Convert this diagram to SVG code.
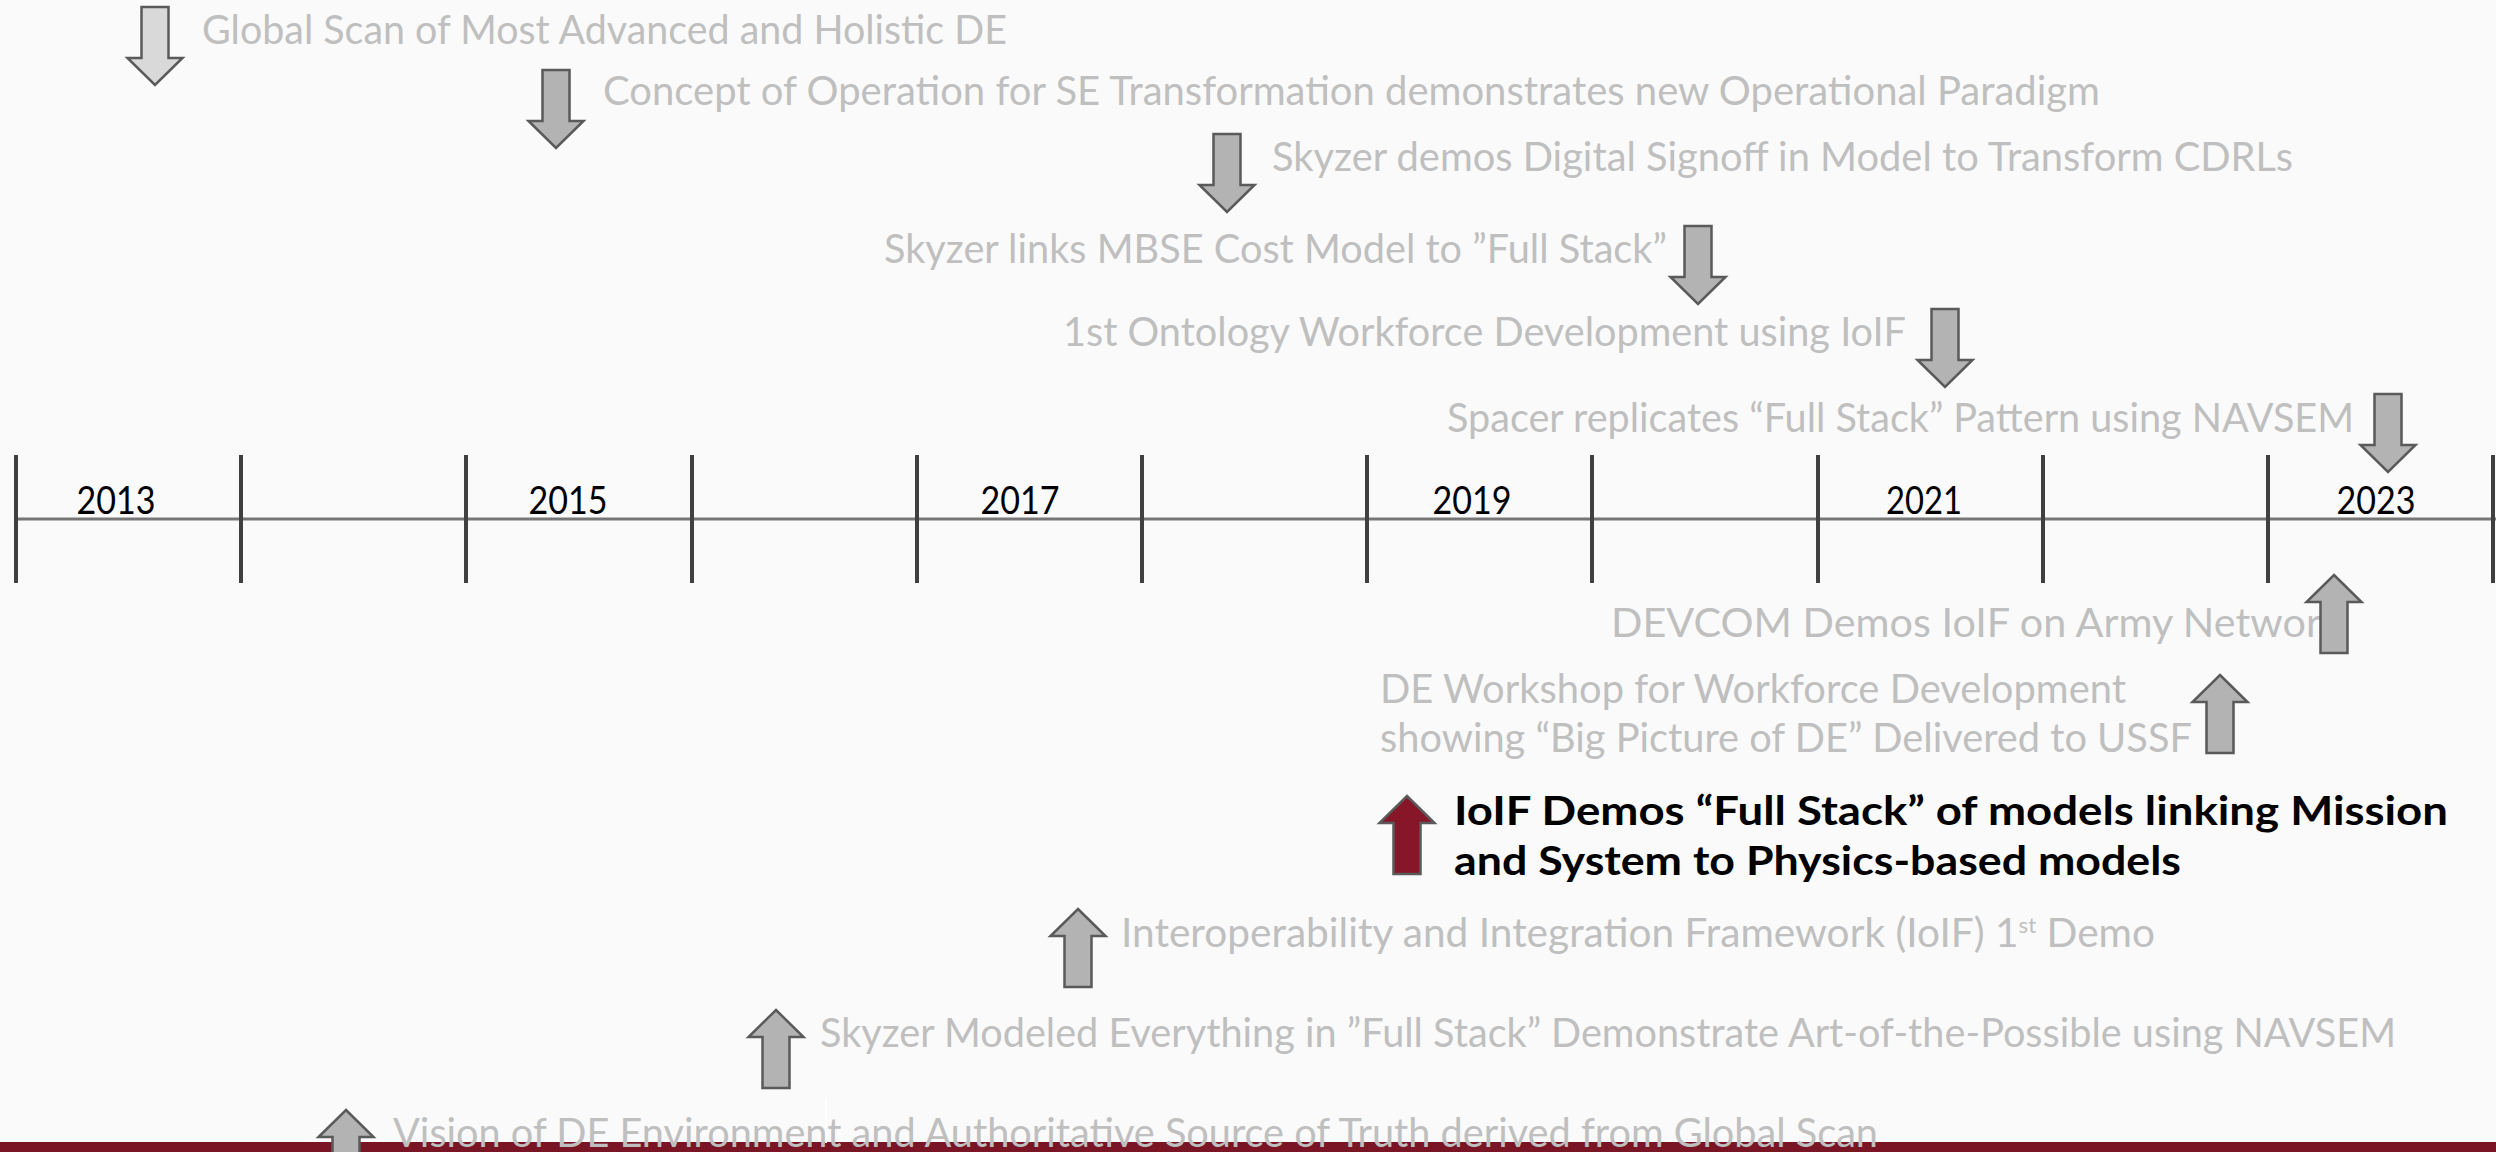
<svg xmlns="http://www.w3.org/2000/svg" xmlns:xlink="http://www.w3.org/1999/xlink" width="2496" height="1152" viewBox="0 0 2496 1152">
  <style>
    .lbl { font-family: Lato, "Liberation Sans", sans-serif; font-size: 40px; fill: #bfbfbf; }
    .hl { font-family: Lato, "Liberation Sans", sans-serif; font-size: 40px; font-weight: 700; fill: #000000; }
    .yr { font-family: Lato, "Liberation Sans", sans-serif; font-size: 39px; fill: #000000; text-anchor: middle; }
    .axis { stroke: #767676; stroke-width: 3; }
    .tick { stroke: #404040; stroke-width: 4; }
    .arr { fill: #b3b3b3; stroke: #5a5a5a; stroke-width: 2.5; stroke-linejoin: miter; }
    .arr-light { fill: #d9d9d9; }
    .arr-red { fill: #861628; stroke: #5a5a5a; }
  </style>
  <defs>
    <path id="down" d="M-13.5,0 H13.5 V51 H27.5 L0,78 L-27.5,51 H-13.5 Z"/>
    <path id="up" d="M0,0 L27.5,27 H13.5 V78 H-13.5 V27 H-27.5 Z"/>
  </defs>
  <rect x="0" y="0" width="2496" height="1152" fill="#fafafa"/>
  <rect x="0" y="1142" width="2496" height="10" fill="#7a1525"/>
  <line x1="826" y1="1099" x2="826" y2="1143" stroke="#ffffff" stroke-width="2"/>

  <g id="timeline">
    <line class="axis" x1="16" y1="519" x2="2496" y2="519"/>
    <g class="ticks">
      <line class="tick" x1="16" y1="455" x2="16" y2="583"/>
      <line class="tick" x1="241" y1="455" x2="241" y2="583"/>
      <line class="tick" x1="466" y1="455" x2="466" y2="583"/>
      <line class="tick" x1="692" y1="455" x2="692" y2="583"/>
      <line class="tick" x1="917" y1="455" x2="917" y2="583"/>
      <line class="tick" x1="1142" y1="455" x2="1142" y2="583"/>
      <line class="tick" x1="1367" y1="455" x2="1367" y2="583"/>
      <line class="tick" x1="1592" y1="455" x2="1592" y2="583"/>
      <line class="tick" x1="1818" y1="455" x2="1818" y2="583"/>
      <line class="tick" x1="2043" y1="455" x2="2043" y2="583"/>
      <line class="tick" x1="2268" y1="455" x2="2268" y2="583"/>
      <line class="tick" x1="2493" y1="455" x2="2493" y2="583"/>
    </g>
    <text class="yr" x="116" y="514" textLength="79" lengthAdjust="spacingAndGlyphs">2013</text>
    <text class="yr" x="568" y="514" textLength="79" lengthAdjust="spacingAndGlyphs">2015</text>
    <text class="yr" x="1020" y="514" textLength="79" lengthAdjust="spacingAndGlyphs">2017</text>
    <text class="yr" x="1472" y="514" textLength="79" lengthAdjust="spacingAndGlyphs">2019</text>
    <text class="yr" x="1924" y="514" textLength="76" lengthAdjust="spacingAndGlyphs">2021</text>
    <text class="yr" x="2376" y="514" textLength="79" lengthAdjust="spacingAndGlyphs">2023</text>
  </g>

  <g id="connectors"></g>

  <g id="m-global-scan">
    <use xlink:href="#down" class="arr arr-light" transform="translate(155,7)"/>
    <text class="lbl" x="202" y="44" textLength="805" lengthAdjust="spacingAndGlyphs">Global Scan of Most Advanced and Holistic DE</text>
  </g>
  <g id="m-conops">
    <use xlink:href="#down" class="arr" transform="translate(556,70)"/>
    <text class="lbl" x="603" y="105" textLength="1497" lengthAdjust="spacingAndGlyphs">Concept of Operation for SE Transformation demonstrates new Operational Paradigm</text>
  </g>
  <g id="m-digital-signoff">
    <use xlink:href="#down" class="arr" transform="translate(1227,134)"/>
    <text class="lbl" x="1272" y="171" textLength="1021" lengthAdjust="spacingAndGlyphs">Skyzer demos Digital Signoff in Model to Transform CDRLs</text>
  </g>
  <g id="m-cost-model">
    <use xlink:href="#down" class="arr" transform="translate(1698,226)"/>
    <text class="lbl" x="884" y="263" textLength="783" lengthAdjust="spacingAndGlyphs">Skyzer links MBSE Cost Model to ”Full Stack”</text>
  </g>
  <g id="m-ontology">
    <use xlink:href="#down" class="arr" transform="translate(1945,309)"/>
    <text class="lbl" x="1063" y="346" textLength="843" lengthAdjust="spacingAndGlyphs">1st Ontology Workforce Development using IoIF</text>
  </g>
  <g id="m-spacer">
    <use xlink:href="#down" class="arr" transform="translate(2388,394)"/>
    <text class="lbl" x="1447" y="432" textLength="907" lengthAdjust="spacingAndGlyphs">Spacer replicates “Full Stack” Pattern using NAVSEM</text>
  </g>

  <g id="m-devcom">
    <text class="lbl" x="1611" y="637" textLength="731" lengthAdjust="spacingAndGlyphs">DEVCOM Demos IoIF on Army Network</text>
    <use xlink:href="#up" class="arr" transform="translate(2334,575)"/>
  </g>
  <g id="m-workshop">
    <use xlink:href="#up" class="arr" transform="translate(2220,675)"/>
    <text class="lbl" x="1380" y="703" textLength="746" lengthAdjust="spacingAndGlyphs">DE Workshop for Workforce Development</text>
    <text class="lbl" x="1380" y="752" textLength="812" lengthAdjust="spacingAndGlyphs">showing “Big Picture of DE” Delivered to USSF</text>
  </g>
  <g id="m-ioif-full-stack">
    <use xlink:href="#up" class="arr arr-red" transform="translate(1407,796)"/>
    <text class="hl" x="1454" y="825" textLength="994" lengthAdjust="spacingAndGlyphs">IoIF Demos “Full Stack” of models linking Mission</text>
    <text class="hl" x="1454" y="875" textLength="727" lengthAdjust="spacingAndGlyphs">and System to Physics-based models</text>
  </g>
  <g id="m-ioif-first">
    <use xlink:href="#up" class="arr" transform="translate(1078,909)"/>
    <text class="lbl" x="1121" y="947" textLength="1034" lengthAdjust="spacingAndGlyphs">Interoperability and Integration Framework (IoIF) 1<tspan font-size="22" dy="-14">st</tspan><tspan dy="14"> Demo</tspan></text>
  </g>
  <g id="m-skyzer-modeled">
    <use xlink:href="#up" class="arr" transform="translate(776,1010)"/>
    <text class="lbl" x="820" y="1047" textLength="1576" lengthAdjust="spacingAndGlyphs">Skyzer Modeled Everything in ”Full Stack” Demonstrate Art-of-the-Possible using NAVSEM</text>
  </g>
  <g id="m-vision">
    <use xlink:href="#up" class="arr" transform="translate(346,1110)"/>
    <text class="lbl" x="393" y="1147" textLength="1485" lengthAdjust="spacingAndGlyphs">Vision of DE Environment and Authoritative Source of Truth derived from Global Scan</text>
  </g>
</svg>
